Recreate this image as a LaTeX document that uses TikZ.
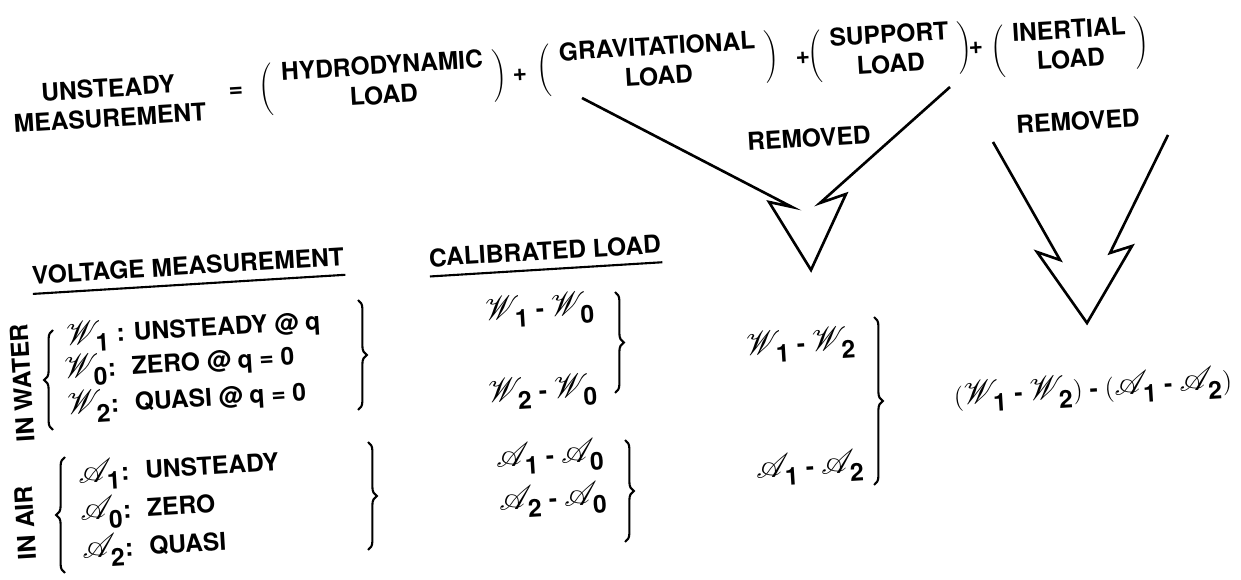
\documentclass[tikz,border=0pt]{standalone}
\usepackage{fontspec}
\setmainfont{TeX Gyre Heros}
\usepackage{mathrsfs}
\usepackage{graphicx}
\usetikzlibrary{decorations.pathreplacing}
\newcommand{\scW}{\mbox{\scalebox{1.3}{$\mathscr{W}$}}}
\newcommand{\scA}{\mbox{\scalebox{1.3}{$\mathscr{A}$}}}
\newcommand{\Wm}[1]{\ensuremath{\scW_{\kern-3.5pt\mbox{#1}}}}
\newcommand{\Am}[1]{\ensuremath{\scA_{\kern-3pt\mbox{#1}}}}
\delimiterfactor=850
\setlength{\tabcolsep}{5pt}
\tikzset{
  lbl/.style={font=\fontsize{14}{17}\selectfont\bfseries, rotate=3.5, inner sep=1pt},
  grp/.style={lbl, align=center},
  ulbl/.style={lbl, inner xsep=0pt, inner ysep=5pt},
  brc/.style={decorate, decoration={brace, amplitude=5pt}, line width=1.2pt},
  vpath/.style={line width=1.5pt, line join=miter}
}
\begin{document}
\begin{tikzpicture}[x=0.02cm, y=-0.02cm]
\useasboundingbox (0,0) rectangle (1241,580);
\node[grp] (um) at (109,103) {UNSTEADY\\MEASUREMENT};
\node[lbl] (eq) at (236,92) {=};
\node[lbl] (hyd) at (383,83) {$\left(\begin{tabular}{c}HYDRODYNAMIC\\LOAD\end{tabular}\right)$};
\node[lbl] (p1) at (520,75) {+};
\node[lbl] (grav) at (658,64) {$\left(\begin{tabular}{c}GRAVITATIONAL\\LOAD\end{tabular}\right)$};
\node[lbl] (p2) at (803,58) {+};
\node[lbl] (sup) at (890,52) {$\left(\begin{tabular}{c}SUPPORT\\LOAD\end{tabular}\right)$};
\node[lbl] (p3) at (976,48) {+};
\node[lbl] (ine) at (1070,47) {$\left(\begin{tabular}{c}INERTIAL\\LOAD\end{tabular}\right)$};
\node[lbl] (rem1) at (809,138) {REMOVED};
\node[lbl] (rem2) at (1078,121) {REMOVED};

\coordinate (g1) at (582,98);
\coordinate (g2) at (792,207);
\coordinate (g3) at (769,202);
\coordinate (v1) at (811,270);
\coordinate (s3) at (846,194);
\coordinate (s2) at (820,203);
\coordinate (s1) at (950,87);
\draw[vpath] (g1) -- (g2) -- (g3) -- (v1) -- (s3) -- (s2) -- (s1);
\coordinate (i1) at (993,142);
\coordinate (i2) at (1060,260);
\coordinate (i3) at (1037,252);
\coordinate (v2) at (1087,323);
\coordinate (j3) at (1132,246);
\coordinate (j2) at (1110,253);
\coordinate (j1) at (1168,135);
\draw[vpath] (i1) -- (i2) -- (i3) -- (v2) -- (j3) -- (j2) -- (j1);

\node[ulbl] (volt) at (188,266) {VOLTAGE MEASUREMENT};
\draw[line width=1.2pt] (volt.south west) -- (volt.south east);
\node[ulbl] (cal) at (545,251) {CALIBRATED LOAD};
\draw[line width=1.2pt] (cal.south west) -- (cal.south east);

\node[lbl, rotate=90] (water) at (22,383) {IN WATER};
\node[lbl, rotate=90] (air) at (25,523) {IN AIR};
\draw[brc] (53,430) -- (53,330);
\draw[brc] (65,573) -- (65,457);
\node[lbl, anchor=west] (w1) at (64,338) {\Wm{1} : UNSTEADY @ q};
\node[lbl, anchor=west] (w0) at (62,372) {\Wm{0}: ~ZERO @ q = 0};
\node[lbl, anchor=west] (w2) at (65,408) {\Wm{2}: ~QUASI @ q = 0};
\node[lbl, anchor=west] (a1) at (76,476) {\Am{1}: ~UNSTEADY};
\node[lbl, anchor=west] (a0) at (78,514) {\Am{0}: ~ZERO};
\node[lbl, anchor=west] (a2) at (80,552) {\Am{2}: ~QUASI};
\draw[brc] (358,300) -- (358,410);
\draw[brc] (368,442) -- (368,550);

\node[lbl] (c1) at (540,310) {\Wm{1} - \Wm{0}};
\node[lbl] (c2) at (543,392) {\Wm{2} - \Wm{0}};
\node[lbl] (c3) at (550,457) {\Am{1} - \Am{0}};
\node[lbl] (c4) at (553,500) {\Am{2} - \Am{0}};
\draw[brc] (615,292) -- (615,393);
\draw[brc] (625,440) -- (625,542);

\node[lbl] (d1) at (801,345) {\Wm{1} - \Wm{2}};
\node[lbl] (d2) at (810,468) {\Am{1} - \Am{2}};
\draw[brc] (874,317) -- (874,485);

\node[lbl] (res) at (1093,390) {$($\Wm{1} - \Wm{2}$)$ - $($\Am{1} - \Am{2}$)$};
\end{tikzpicture}
\end{document}
